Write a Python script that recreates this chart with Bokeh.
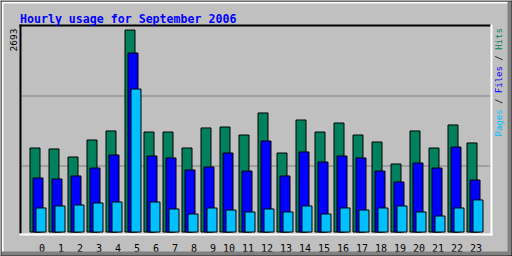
import math
from bokeh.plotting import figure
from bokeh.models import Range1d, Label, BoxAnnotation, ColumnDataSource
from bokeh.transform import dodge
from bokeh.core.properties import value
from bokeh.embed import file_html
from bokeh.resources import INLINE

# ---- data -------------------------------------------------------------
TITLE = "Hourly usage for September 2006"
HOURS = list(range(24))
HOUR_LABELS = [str(h) for h in HOURS]
HITS = [1120, 1107, 1000, 1227, 1347, 2693, 1333, 1333, 1120, 1387, 1400, 1293,
        1587, 1053, 1493, 1333, 1453, 1293, 1200, 907, 1347, 1120, 1427, 1187]
FILES = [720, 707, 747, 853, 1027, 2386, 1013, 987, 827, 867, 1053, 813,
         1213, 747, 1067, 933, 1013, 987, 813, 667, 920, 853, 1133, 693]
PAGES = [320, 347, 360, 387, 400, 1906, 400, 307, 240, 320, 293, 267,
         307, 267, 347, 240, 320, 293, 320, 347, 267, 213, 320, 427]
SERIES_NAMES = ["Pages", "Files", "Hits"]

# ---- styles -----------------------------------------------------------
BG = "#C0C0C0"
SHADOW = "#808080"
C_HITS = "#00805C"
C_FILES = "#0000FF"
C_PAGES = "#00C0FF"
MONO = "DejaVu Sans Mono"
YMAX = max(HITS)

# pixel <-> data helpers for decorations (hour slot = 19 px)
SLOT = 19.0
X0PX = 34.5          # pixel centre of hour 0 hits bar
BASEPX = 231.5       # pixel of value 0
TOPPX = 29.5         # pixel of maximum value
def xd(px):
    return (px - X0PX) / SLOT
def yd(py):
    return (BASEPX - py) * YMAX / (BASEPX - TOPPX)

p = figure(width=512, height=256, output_backend="svg", toolbar_location=None,
           x_range=Range1d(xd(0), xd(512)), y_range=Range1d(yd(256), yd(0)),
           x_axis_location=None, y_axis_location=None, min_border=0,
           background_fill_color=BG, border_fill_color=BG, outline_line_color=None)
p.grid.visible = False

def box(l, r, t, b, color, level="annotation"):
    p.add_layout(BoxAnnotation(left=xd(l), right=xd(r), top=yd(t), bottom=yd(b),
                               fill_color=color, fill_alpha=1, line_color=None,
                               level=level))

# index lines (behind the bars)
box(21, 490, 95, 96, SHADOW, "underlay")
box(21, 490, 165, 166, SHADOW, "underlay")

src = ColumnDataSource(dict(hour=HOURS, hits=HITS, files=FILES, pages=PAGES,
                            label=HOUR_LABELS))
bw = 10 / SLOT
p.vbar(x="hour", top="hits", width=bw, source=src, fill_color=C_HITS,
       line_color="black", line_width=1)
p.vbar(x=dodge("hour", 3 / SLOT), top="files", width=bw, source=src, fill_color=C_FILES,
       line_color="black", line_width=1)
p.vbar(x=dodge("hour", 6 / SLOT), top="pages", width=bw, source=src, fill_color=C_PAGES,
       line_color="black", line_width=1)

# hour labels, right aligned under each group
p.text(x=dodge("hour", 10 / SLOT), y=yd(247), text="label", source=src,
       text_font=value(MONO), text_font_size="10px", text_color="black",
       text_align="right", text_baseline="alphabetic")

# ---- borders ------------------------------------------------------------
box(1, 511, 1, 3, "white")
box(1, 3, 1, 255, "white")
box(1, 511, 251, 255, SHADOW)
box(507, 511, 1, 255, SHADOW)
box(0, 512, 0, 1, "black")
box(0, 1, 0, 256, "black")
box(0, 512, 255, 256, "black")
box(511, 512, 0, 256, "black")
# plot frame
box(19, 490, 24, 26, "black")
box(19, 21, 24, 233, "black")
box(19, 492, 233, 235, "white")
box(490, 492, 24, 235, "white")

# ---- texts --------------------------------------------------------------
p.add_layout(Label(x=xd(19.5), y=yd(18.5), text=TITLE, text_color="#0000FF",
                   text_font=MONO, text_font_style="bold", text_font_size="11.6px",
                   text_baseline="alphabetic", text_align="left"))
p.add_layout(Label(x=xd(12.7), y=yd(28.0), text=str(YMAX), angle=math.pi / 2,
                   text_color="black", text_font=MONO, text_font_size="9.5px",
                   text_baseline="middle", text_align="right"))

adv = 0.602 * 9
pieces = [(SERIES_NAMES[0], C_PAGES, 0), ("/", "black", 6), (SERIES_NAMES[1], C_FILES, 8),
          ("/", "black", 14), (SERIES_NAMES[2], C_HITS, 16)]
for txt, col, idx in pieces:
    p.add_layout(Label(x=xd(498.0), y=yd(136.0 - idx * adv), text=txt, angle=math.pi / 2,
                       text_color=col, text_font=MONO, text_font_size="9px",
                       text_baseline="middle", text_align="left"))

open("out.html", "w").write(file_html(p, INLINE))
